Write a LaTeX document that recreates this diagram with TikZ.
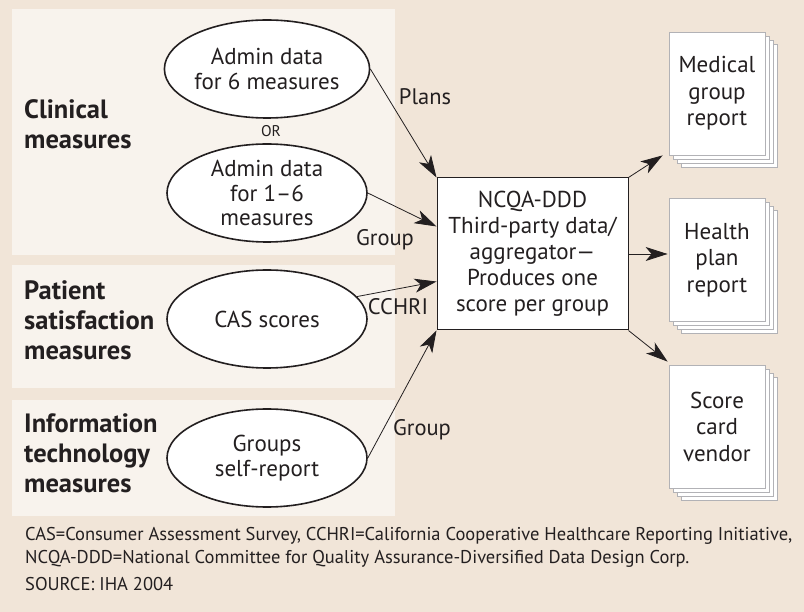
\documentclass[tikz,border=0pt]{standalone}
\usepackage{fontspec}
\setmainfont{PT Sans}
\newfontfamily\notefont{PT Sans}
\usetikzlibrary{shapes.geometric,shadows,arrows.meta}

\definecolor{paper}{RGB}{241,229,216}
\definecolor{panelfill}{RGB}{248,243,237}
\definecolor{ink}{RGB}{35,31,32}
\definecolor{sheetline}{RGB}{178,178,182}

\tikzset{
  panel/.style={fill=panelfill, draw=none},
  group label/.style={anchor=west, align=left, inner sep=0pt, text=ink,
    font=\fontsize{26.5}{30}\selectfont\bfseries},
  source/.style={ellipse, draw=ink, line width=1.6pt, fill=white,
    minimum width=200pt, minimum height=98pt, inner sep=0pt,
    align=center, text=ink, font=\fontsize{23}{24.5}\selectfont},
  aggregator/.style={rectangle, draw=ink, line width=1pt, fill=white,
    minimum width=191pt, minimum height=152pt, inner sep=0pt,
    align=center, text=ink, font=\fontsize{23}{26}\selectfont},
  sheet/.style={fill=white, draw=sheetline, line width=0.8pt},
  report/.style={rectangle, sheet, minimum width=96pt, minimum height=123pt,
    inner sep=0pt, align=center, text=ink, font=\fontsize{23}{26.5}\selectfont,
    copy shadow={shadow xshift=12pt, shadow yshift=-12pt, sheet},
    copy shadow={shadow xshift=8pt, shadow yshift=-8pt, sheet},
    copy shadow={shadow xshift=4pt, shadow yshift=-4pt, sheet}},
  flow/.style={draw=ink, line width=0.8pt,
    -{Stealth[length=22pt, width=14pt, inset=6pt]}},
  flow label/.style={text=ink, font=\fontsize{22.5}{24}\selectfont},
  note/.style={anchor=base west, inner sep=0pt, text=ink,
    font=\notefont\fontsize{18.5}{22}\selectfont}
}

\begin{document}
\begin{tikzpicture}[x=1pt, y=-1pt]
\fill[paper] (0,0) rectangle (804,612);
\useasboundingbox (0,0) rectangle (804,612);

% measure groups
\fill[panel] (12,9) rectangle (395,255);
\fill[panel] (12,265) rectangle (395,388);
\fill[panel] (12,400) rectangle (395,516);

\node[group label] (clinical) at (24,124) {Clinical\\measures};
\node[group label] (patient) at (24,320) {Patient\\satisfaction\\measures};
\node[group label] (infotech) at (24,453) {Information\\technology\\measures};

% data sources
\node[source] (admin6) at (267,69) {Admin data\\for 6 measures};
\node[text=ink, font=\fontsize{15.5}{18}\selectfont] (or) at (271,131) {OR};
\node[source] (admin16) at (267,193) {Admin data\\for 1--6\\measures};
\node[source] (cas) at (267,319) {CAS scores};
\node[source] (selfrep) at (267,458) {Groups\\self-report};

% aggregator
\node[aggregator] (ncqa) at (532.5,254)
  {NCQA-DDD\\Third-party data/\\aggregator---\\Produces one\\score per group};

% reports
\node[report] (medical) at (717,93.5) {Medical\\group\\report};
\node[report] (health) at (717,260) {Health\\plan\\report};
\node[report] (vendor) at (717,426.5) {Score\\card\\vendor};

% flows in
\draw[flow] (admin6.east) -- (ncqa.north west);
\draw[flow] (admin16.east) -- (ncqa.164);
\draw[flow] (cas.14) -- (ncqa.196);
\draw[flow] (selfrep.east) -- (ncqa.south west);

\node[flow label] (plans) at (425,97) {Plans};
\node[flow label] (group1) at (385,240) {Group};
\node[flow label] (cchri) at (398,307) {CCHRI};
\node[flow label] (group2) at (422,430) {Group};

% flows out
\draw[flow] (ncqa.north east) -- ([xshift=-6pt]medical.south west);
\draw[flow] (ncqa.east) -- ([xshift=-1pt]health.west |- ncqa.east);
\draw[flow] (ncqa.south east) -- ([xshift=-1pt,yshift=3pt]vendor.north west);

% notes
\node[note] (abbr1) at (25,540) {CAS=Consumer Assessment Survey, CCHRI=California Cooperative Healthcare Reporting Initiative,};
\node[note] (abbr2) at (25,563) {NCQA-DDD=National Committee for Quality Assurance-Diversified Data Design Corp.};
\node[note] (src) at (25,590) {SOURCE: IHA 2004};
\end{tikzpicture}
\end{document}
